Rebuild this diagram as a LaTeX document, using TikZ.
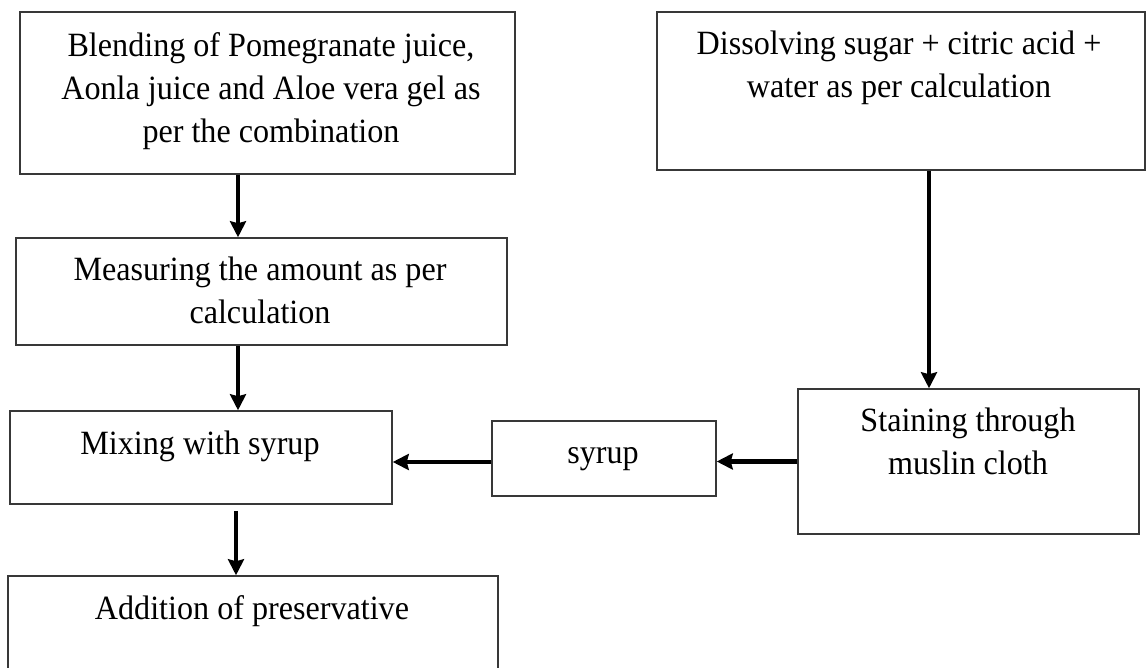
\documentclass[tikz,border=0pt]{standalone}
\usepackage{fontspec}
\setmainfont{Liberation Serif}
\usetikzlibrary{arrows.meta}
\newcommand{\boxlines}[1]{\scalebox{0.945}[1]{\begin{tabular}[t]{@{}c@{}}#1\end{tabular}}}
\begin{document}
\begin{tikzpicture}[x=1pt,y=-1pt,
  flowbox/.style={draw=black!78, line width=1.5pt, rectangle, inner sep=0pt, fill=none},
  flowtext/.style={anchor=base, inner sep=0pt, font=\fontsize{34}{43}\selectfont},
  flowarrow/.style={line width=3.6pt, -{Stealth[length=16pt,width=16pt,inset=2pt]}},
  sidearrow/.style={flowarrow, line width=4.3pt}]
\useasboundingbox (0,0) rectangle (1148,668);
% boxes
\node[flowbox, minimum width=495pt, minimum height=162pt] (b1) at (267.5,93) {};
\node[flowbox, minimum width=488pt, minimum height=158pt] (b2) at (901,91) {};
\node[flowbox, minimum width=491pt, minimum height=107pt] (b3) at (261.5,291.5) {};
\node[flowbox, minimum width=382pt, minimum height=93pt] (mix) at (201,457.5) {};
\node[flowbox, minimum width=224pt, minimum height=75pt] (syr) at (604,458.5) {};
\node[flowbox, minimum width=341pt, minimum height=145pt] (stain) at (968.5,461.5) {};
\node[flowbox, minimum width=490pt, minimum height=100pt] (add) at (253,626) {};
% texts
\node[flowtext] (t1) at (271,57) {\boxlines{Blending of Pomegranate juice,\\Aonla juice and Aloe vera gel as\\per the combination}};
\node[flowtext] (t2) at (899,55) {\boxlines{Dissolving sugar + citric acid +\\water as per calculation}};
\node[flowtext] (t3) at (260,280.5) {\boxlines{Measuring the amount as per\\calculation}};
\node[flowtext] (t4) at (200,454) {\boxlines{Mixing with syrup}};
\node[flowtext] (t5) at (603,463) {\boxlines{syrup}};
\node[flowtext] (t6) at (968,431) {\boxlines{Staining through\\muslin cloth}};
\node[flowtext] (t7) at (252,619.5) {\boxlines{Addition of preservative}};
% columns for vertical connectors
\coordinate (colA) at (238,0);
\coordinate (colC) at (236,0);
\coordinate (colB) at (929,0);
% connectors
\draw[flowarrow] (b1.south -| colA) -- (b3.north -| colA);
\draw[flowarrow] (b3.south -| colA) -- (mix.north -| colA);
\draw[flowarrow] ([yshift=-6pt]mix.south -| colC) -- (add.north -| colC);
\draw[flowarrow] (b2.south -| colB) -- (stain.north -| colB);
\draw[sidearrow] (stain.west) -- (stain.west -| syr.east);
\draw[sidearrow] ([yshift=-3.5pt]syr.west) -- ([yshift=-3.5pt]syr.west -| mix.east);
\end{tikzpicture}
\end{document}
